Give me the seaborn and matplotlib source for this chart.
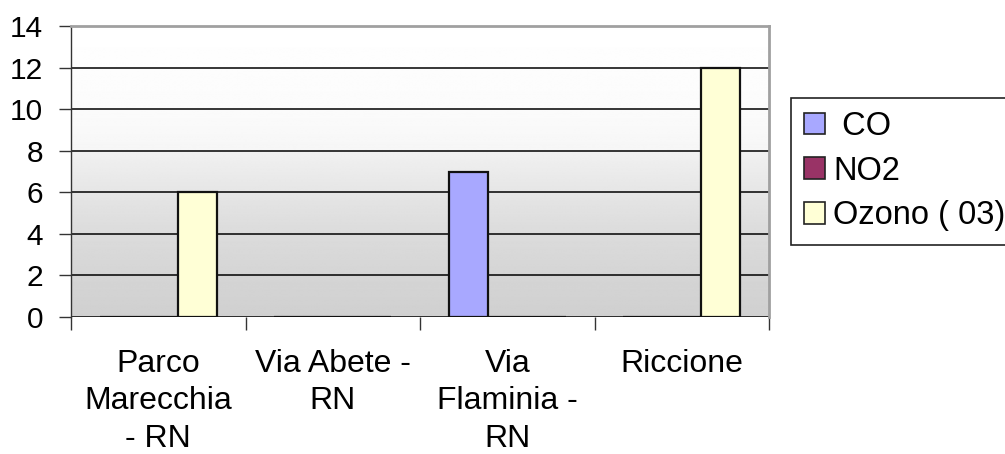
import numpy as np
import pandas as pd
import matplotlib
matplotlib.use("Agg")
import matplotlib.pyplot as plt
from matplotlib.patches import Patch
from matplotlib.ticker import FixedLocator
import seaborn as sns

# Stations (x categories) and pollutant series
stations = ["Parco\nMarecchia\n- RN", "Via Abete -\nRN", "Via\nFlaminia -\nRN", "Riccione"]
series = ["CO", "NO2", "Ozono ( 03)"]
legend_labels = [" CO", "NO2", "Ozono ( 03)"]
co_values = [0, 0, 7, 0]
no2_values = [0, 0, 0, 0]
ozono_values = [6, 0, 0, 12]
y_ticks = [0, 2, 4, 6, 8, 10, 12, 14]

colors = {"CO": "#a8a8ff", "NO2": "#993366", "Ozono ( 03)": "#ffffd6"}

df = pd.DataFrame({
    "station": stations * 3,
    "series": [s for s in series for _ in stations],
    "value": co_values + no2_values + ozono_values,
})

sns.set_style("white")
plt.rcParams["font.family"] = ["Liberation Sans", "DejaVu Sans"]
plt.rcParams["text.color"] = "black"
plt.rcParams["xtick.labelcolor"] = "black"
plt.rcParams["ytick.labelcolor"] = "black"

fig = plt.figure(figsize=(10.05, 4.54), dpi=100)
ax = fig.add_axes([71 / 1005, 1 - 317 / 454, (769 - 71) / 1005, (317 - 26) / 454])

sns.barplot(data=df, x="station", y="value", hue="series", order=stations,
            hue_order=series, palette=colors, width=0.67, errorbar=None,
            edgecolor="#111111", linewidth=1.6, saturation=1, legend=False,
            ax=ax, zorder=3)

# Plot-area background: white on top fading to grey at the base
yy = np.linspace(14, 0, 400)
shade = np.interp(yy, [0, 2, 4, 6, 7.99, 8.0, 10, 14],
                  [0.815, 0.835, 0.86, 0.90, 0.945, 0.965, 0.985, 1.0])
grad = np.repeat(shade[:, None], 2, axis=1)
ax.imshow(grad, cmap="gray", vmin=0, vmax=1, aspect="auto",
          extent=[-0.5, len(stations) - 0.5, 0, 14], zorder=0, interpolation="bilinear")
ax.set_xlim(-0.5, len(stations) - 0.5)
ax.set_ylim(0, 14)

# Horizontal gridlines
for v in y_ticks[:-1]:
    ax.axhline(v, color="black", linewidth=1.1, zorder=1)

ax.set_yticks(y_ticks)
ax.set_yticklabels([str(v) for v in y_ticks], fontsize=21.5)
ax.tick_params(axis="y", direction="out", length=9, width=1, color="#333333",
               pad=11, left=True)

ax.set_xticks(range(len(stations)))
ax.set_xticklabels(stations, fontsize=23, linespacing=1.32, va="top")
ax.tick_params(axis="x", which="major", length=0, pad=23)
ax.xaxis.set_minor_locator(FixedLocator(np.arange(-0.5, len(stations), 1.0)))
ax.tick_params(axis="x", which="minor", direction="out", length=9, width=1,
               color="#333333", bottom=True)

ax.set_xlabel("")
ax.set_ylabel("")

for side in ["top", "right"]:
    ax.spines[side].set_visible(True)
    ax.spines[side].set_color("#a0a0a0")
    ax.spines[side].set_linewidth(2)
ax.spines["left"].set_color("#333333")
ax.spines["left"].set_linewidth(1)
ax.spines["bottom"].set_visible(False)

handles = [Patch(facecolor=colors[s], edgecolor="#222222", linewidth=1.2) for s in series]
leg = fig.legend(handles, legend_labels,
                 loc="upper left", bbox_to_anchor=(791 / 1005, 1 - 98 / 454),
                 borderaxespad=0, fontsize=23.5, frameon=True, fancybox=False,
                 framealpha=1, edgecolor="#222222", handlelength=0.65,
                 handleheight=0.65, handletextpad=0.25, labelspacing=0.42,
                 borderpad=0.4)
leg.get_frame().set_linewidth(1.2)

fig.savefig("out.png", dpi=100, facecolor="white")
